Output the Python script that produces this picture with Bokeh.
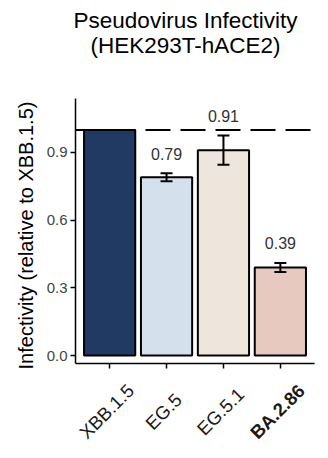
import math
from bokeh.plotting import figure
from bokeh.models import (ColumnDataSource, Whisker, TeeHead, FixedTicker,
                          Range1d, PrintfTickFormatter)
from bokeh.core.properties import value
from bokeh.embed import file_html
from bokeh.resources import INLINE

# ---- data ----
variants = ["XBB.1.5", "EG.5", "EG.5.1", "BA.2.86"]
infectivity = [1.0, 0.79, 0.91, 0.39]
sem = [0.0, 0.018, 0.065, 0.02]
bar_colors = ["#213a64", "#d4e1ec", "#eee5dd", "#e8c9c0"]
value_labels = ["", "0.79", "0.91", "0.39"]
label_bold = [False, False, False, True]
y_ticks = [0.0, 0.3, 0.6, 0.9]
reference_level = 1.0
title_lines = ["Pseudovirus Infectivity", "(HEK293T-hACE2)"]
y_title = "Infectivity (relative to XBB.1.5)"

FONT = "Liberation Sans"
xs = [i + 1 for i in range(len(variants))]

# ---- layout (the frame fills the whole canvas; axes are pinned inside it) ----
W, H = 328, 458
AX_X0, AX_X1 = 0.4, 4.6          # x extent of the panel (axis line)
AX_Y0, AX_Y1 = -0.0355, 1.139    # y extent of the panel (axis line)
PX_LEFT, PX_RIGHT = 75, 314      # canvas x of AX_X0 / AX_X1
PX_ZERO, PX_PER_Y = 355, 225.6   # canvas y of value 0, pixels per unit
ppx = (PX_RIGHT - PX_LEFT) / (AX_X1 - AX_X0)
X_LO, X_HI = AX_X0 - PX_LEFT / ppx, AX_X1 + (W - PX_RIGHT) / ppx
Y_HI, Y_LO = PX_ZERO / PX_PER_Y, (PX_ZERO - H) / PX_PER_Y


def cx(px):   # canvas x -> data x
    return X_LO + px / ppx


def cy(py):   # canvas y (from top) -> data y
    return Y_HI - py / PX_PER_Y


p = figure(width=W, height=H, x_range=Range1d(X_LO, X_HI), y_range=Range1d(Y_LO, Y_HI),
           output_backend="svg", toolbar_location=None, title=None,
           min_border_left=0, min_border_right=0, min_border_top=0, min_border_bottom=0)
p.outline_line_color = None
p.xgrid.visible = False
p.ygrid.visible = False
p.background_fill_color = "white"
p.border_fill_color = "white"

# reference dashed line (under bars)
p.segment(x0=[AX_X0], x1=[AX_X1], y0=[reference_level], y1=[reference_level],
          line_color="black", line_width=2, line_dash="25 10")

src = ColumnDataSource(dict(x=xs, top=infectivity, color=bar_colors))
p.vbar(x="x", top="top", bottom=0, width=0.9, fill_color="color",
       line_color="black", line_width=2, source=src)

# error bars
ex = [x for x, s in zip(xs, sem) if s > 0]
eu = [v + s for v, s in zip(infectivity, sem) if s > 0]
el = [v - s for v, s in zip(infectivity, sem) if s > 0]
esrc = ColumnDataSource(dict(x=ex, upper=eu, lower=el))
p.add_layout(Whisker(base="x", upper="upper", lower="lower", source=esrc,
                     line_color="black", line_width=2, level="annotation",
                     upper_head=TeeHead(size=12, line_color="black", line_width=2),
                     lower_head=TeeHead(size=12, line_color="black", line_width=2)))

# value labels above error bars
lx = [x for x, t in zip(xs, value_labels) if t]
ly = [v + s + 0.087 for v, s, t in zip(infectivity, sem, value_labels) if t]
lt = [t for t in value_labels if t]
p.text(x=lx, y=ly, text=lt, text_align="center", text_baseline="middle",
       text_font=value(FONT), text_font_size="16px", text_color="#333333")

# axes
for ax in (p.xaxis[0], p.yaxis[0]):
    ax.axis_line_width = 1.5
    ax.axis_line_color = "black"
    ax.major_tick_line_width = 1.5
    ax.major_tick_line_color = "black"
    ax.major_tick_out = 5
    ax.major_tick_in = 0
    ax.minor_tick_line_color = None

p.yaxis.fixed_location = AX_X0
p.yaxis.bounds = (AX_Y0, AX_Y1)
p.yaxis.ticker = FixedTicker(ticks=y_ticks)
p.yaxis.formatter = PrintfTickFormatter(format="%.1f")
p.yaxis.major_label_text_font = FONT
p.yaxis.major_label_text_font_size = "15px"
p.yaxis.major_label_text_color = "#444444"
p.yaxis.major_label_standoff = 3

p.xaxis.fixed_location = AX_Y0
p.xaxis.bounds = (AX_X0, AX_X1)
p.xaxis.ticker = FixedTicker(ticks=xs)
p.xaxis.major_label_overrides = {x: "" for x in xs}
p.xaxis.major_label_text_font_size = "0px"
p.xaxis.major_label_standoff = 0

# y axis title
p.text(x=[cx(25)], y=[cy(235)], text=[y_title], angle=math.pi / 2,
       text_align="center", text_baseline="middle", text_font=value(FONT),
       text_font_size="20px", text_color="black")

# rotated category labels
cat_y = cy(411)
for bold in (False, True):
    sx = [x for x, b in zip(xs, label_bold) if b == bold]
    st = [n for n, b in zip(variants, label_bold) if b == bold]
    p.text(x=sx, y=[cat_y] * len(sx), text=st, angle=45, angle_units="deg", x_offset=-3,
           text_align="center", text_baseline="middle", text_font=value(FONT),
           text_font_size="18.5px", text_font_style="bold" if bold else "normal",
           text_color="#1a1a1a")

# two-line title
p.text(x=[cx(185)] * len(title_lines), y=[cy(20 + 25 * i) for i in range(len(title_lines))],
       text=title_lines, text_align="center", text_baseline="middle",
       text_font=value(FONT), text_font_size="22.5px", text_color="black")

open("out.html", "w").write(file_html(p, INLINE))
